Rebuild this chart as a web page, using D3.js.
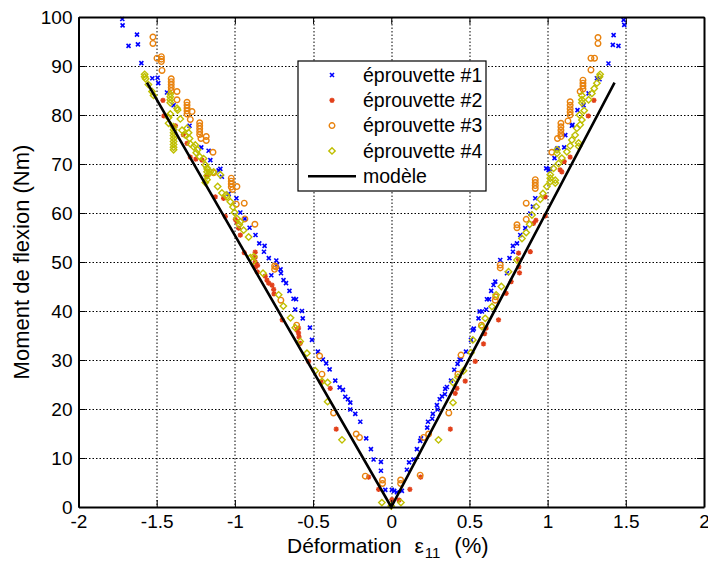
<!DOCTYPE html>
<html>
<head>
<meta charset="utf-8">
<script src="https://cdn.jsdelivr.net/npm/d3@7"></script>
<style>
    body { margin: 0; background: #fff; }
    text { font-family: "Liberation Sans", Arial, sans-serif; fill: #000; }
</style>
</head>
<body>
<div id="chart"></div>
<script>
// tick values / labels
const xTicks = [-2, -1.5, -1, -0.5, 0, 0.5, 1, 1.5, 2];
const xTickLabels = ["-2", "-1.5", "-1", "-0.5", "0", "0.5", "1", "1.5", "2"];
const yTicks = [0, 10, 20, 30, 40, 50, 60, 70, 80, 90, 100];

const seriesNames = ["éprouvette #1", "éprouvette #2", "éprouvette #3", "éprouvette #4"];
const modelName = "modèle";

// [strain %, moment Nm]
const eprouvette1 = [
    [-1.72,99.6],[-1.718,98.3],[-1.626,96.4],[-1.62,94.4],[-1.68,94.1],[-1.598,90.6],[-1.528,87.5],[-1.494,87.6],
    [-1.49,86.5],[-1.434,84.6],[-1.392,82.0],[-1.29,77.8],[-1.215,73.4],[-1.168,72.7],[-1.157,70.8],[-1.104,68.7],
    [-1.093,69.0],[-1.083,67.4],[-1.04,63.9],[-0.99,63.0],[-0.965,60.1],[-0.936,58.8],[-0.906,57.0],[-0.868,55.5],
    [-0.844,53.8],[-0.81,53.3],[-0.814,52.1],[-0.783,50.8],[-0.735,50.3],[-0.731,49.4],[-0.708,48.5],[-0.705,47.7],
    [-0.767,47.3],[-0.689,46.3],[-0.673,45.7],[-0.651,44.1],[-0.625,42.5],[-0.609,42.4],[-0.614,40.3],[-0.571,40.0],
    [-0.566,38.5],[-0.52,36.6],[-0.507,34.1],[-0.469,31.7],[-0.437,30.1],[-0.416,29.3],[-0.394,28.1],[-0.358,25.8],
    [-0.33,24.4],[-0.309,23.9],[-0.294,22.5],[-0.277,22.0],[-0.262,21.3],[-0.262,19.9],[-0.23,19.0],[-0.198,17.4],
    [-0.16,14.0],[-0.13,11.8],[-0.113,9.7],[-0.066,9.2],[-0.066,7.4],[-0.038,3.5],[0.004,3.5],[0.019,3.3],
    [0.036,3.0],[0.068,3.3],
    [0.1,7.6],[0.114,9.1],[0.143,9.7],[0.164,11.8],[0.19,14.0],[0.185,13.5],[0.23,16.2],[0.235,17.4],
    [0.262,18.0],[0.266,19.0],[0.292,20.8],[0.296,19.9],[0.31,22.0],[0.324,22.6],[0.343,23.0],[0.345,24.1],
    [0.356,24.5],[0.382,25.8],[0.403,28.0],[0.424,29.2],[0.437,30.1],[0.446,30.1],[0.478,31.7],[0.51,34.1],
    [0.522,36.1],[0.528,36.4],[0.558,38.5],[0.565,39.9],[0.58,39.9],[0.607,40.3],[0.612,42.4],[0.626,42.4],
    [0.639,44.1],[0.654,45.3],[0.665,46.0],[0.697,50.4],[0.74,47.7],[0.756,50.8],[0.778,52.1],[0.778,53.3],
    [0.804,53.8],[0.825,55.5],[0.857,56.9],[0.889,59.9],[0.906,61.3],[0.921,63.0],[0.991,69.1],[1.006,68.8],
    [1.015,69.0],[1.044,71.2],[1.06,73.0],[1.063,73.2],[1.106,73.4],[1.113,75.9],[1.155,77.8],[1.159,78.0],
    [1.191,81.0],[1.23,82.0],[1.262,84.4],[1.315,87.5],[1.332,87.3],[1.389,90.5],[1.417,94.3],[1.422,96.3],
    [1.453,94.1],[1.486,99.4],[1.49,98.4]
];

const eprouvette2 = [
    [-1.46,83.0],[-1.454,79.8],[-1.38,77.8],[-1.33,76.0],[-1.306,74.2],[-1.285,71.4],[-1.25,71.0],[-1.21,70.8],
    [-1.18,67.5],[-1.125,63.3],[-1.072,63.0],[-1.061,59.3],[-0.997,58.7],[-0.987,58.2],[-0.976,56.9],[-0.965,55.5],
    [-0.94,51.9],[-0.87,52.0],[-0.87,51.0],[-0.87,50.0],[-0.868,49.0],[-0.857,48.0],[-0.855,49.3],[-0.806,47.1],
    [-0.795,46.3],[-0.784,45.7],[-0.763,45.3],[-0.752,44.4],[-0.75,43.5],[-0.697,38.2],[-0.603,36.1],[-0.593,36.5],
    [-0.593,35.5],[-0.59,34.7],[-0.582,33.4],[-0.529,29.7],[-0.45,25.6],[-0.39,24.2],[-0.352,15.9],[-0.145,6.1],
    [-0.081,3.6],[0.004,1.5],[0.05,1.4],[0.119,3.6],[0.188,6.1],[0.378,15.9],[0.409,23.2],[0.42,24.2],
    [0.473,25.7],[0.537,29.7],[0.59,33.3],[0.597,35.4],[0.607,36.5],[0.686,38.2],[0.735,43.6],[0.767,46.0],
    [0.814,51.8],[0.814,50.5],[0.816,49.0],[0.82,47.8],[0.889,52.1],[0.91,57.9],[0.925,58.5],[0.985,63.3],
    [0.985,59.4],[1.08,68.8],[1.091,68.4],[1.106,70.5],[1.144,71.4],[1.26,79.8],[1.296,83.0]
];

const eprouvette3 = [
    [-1.524,95.9],[-1.524,94.6],[-1.498,91.6],[-1.47,91.9],[-1.47,91.4],[-1.47,90.9],[-1.466,89.1],[-1.407,87.4],
    [-1.407,86.8],[-1.407,86.2],[-1.407,85.6],[-1.407,85.0],[-1.37,84.8],[-1.37,83.1],[-1.306,82.6],[-1.306,82.0],
    [-1.306,81.4],[-1.306,80.8],[-1.306,80.2],[-1.274,80.7],[-1.285,79.1],[-1.225,78.4],[-1.225,77.8],[-1.225,77.2],
    [-1.225,76.6],[-1.225,76.0],[-1.217,75.2],[-1.183,75.6],[-1.183,74.8],[-1.14,72.4],[-1.136,68.2],[-1.023,67.1],
    [-1.023,66.5],[-1.023,65.9],[-1.023,65.3],[-1.015,64.8],[-0.987,65.4],[-0.991,61.8],[-0.94,62.0],[-0.936,58.8],
    [-0.872,57.7],[-0.746,49.2],[-0.746,48.5],[-0.738,49.0],[-0.706,42.2],[-0.605,37.1],[-0.458,30.8],[-0.443,27.1],
    [-0.369,19.2],[-0.224,14.9],[-0.203,14.2],[-0.166,6.3],[-0.056,5.5],[-0.056,4.8],
    [0.06,5.5],[0.06,4.8],[0.185,6.5],[0.207,14.2],[0.239,14.9],[0.368,19.2],[0.426,27.1],[0.446,31.0],
    [0.577,37.1],[0.665,42.2],[0.668,42.9],[0.697,49.4],[0.697,48.8],[0.804,57.6],[0.804,57.0],[0.863,58.7],
    [0.863,62.0],[0.921,66.8],[0.921,66.2],[0.921,65.6],[0.921,65.0],[1.027,72.4],[1.063,75.2],[1.085,78.3],
    [1.085,77.6],[1.085,76.9],[1.085,76.2],[1.085,75.6],[1.13,78.8],[1.144,82.7],[1.144,82.0],[1.144,81.3],
    [1.144,80.6],[1.144,80.0],[1.208,84.8],[1.226,87.1],[1.226,86.5],[1.226,85.9],[1.226,85.3],[1.277,89.2],
    [1.277,91.6],[1.3,91.6],[1.322,94.6],[1.322,95.8]
];

const eprouvette4 = [
    [-1.577,88.3],[-1.577,87.8],[-1.571,87.4],[-1.553,86.2],[-1.53,84.8],[-1.52,84.0],[-1.413,84.3],[-1.413,83.7],
    [-1.413,83.1],[-1.413,82.5],[-1.37,81.4],[-1.366,81.0],[-1.424,79.5],[-1.413,80.2],[-1.349,79.2],[-1.392,77.6],
    [-1.392,77.0],[-1.392,76.4],[-1.392,75.8],[-1.392,75.2],[-1.392,74.6],[-1.392,74.0],[-1.392,73.4],[-1.392,72.9],
    [-1.424,78.3],[-1.338,76.9],[-1.317,75.9],[-1.306,77.3],[-1.296,76.4],[-1.29,75.2],[-1.285,74.1],[-1.264,73.5],
    [-1.253,73.9],[-1.247,72.3],[-1.238,72.9],[-1.225,71.5],[-1.2,71.1],[-1.189,69.8],[-1.178,69.2],[-1.178,68.4],
    [-1.178,67.6],[-1.178,66.8],[-1.189,66.2],[-1.175,68.9],[-1.157,68.4],[-1.136,68.4],[-1.11,65.4],[-1.093,67.8],
    [-1.083,64.1],[-1.055,63.7],[-1.051,63.3],[-1.029,62.3],[-1.012,61.2],[-1.002,60.1],[-0.987,58.9],[-0.972,57.6],
    [-0.965,58.2],[-0.944,56.5],[-0.912,55.1],[-0.901,50.9],[-0.884,50.1],[-0.88,51.1],[-0.82,47.7],[-0.72,43.3],
    [-0.69,41.0],[-0.644,38.6],[-0.614,36.6],[-0.582,33.8],[-0.539,31.4],[-0.486,27.8],[-0.443,25.6],[-0.407,25.4],
    [-0.407,21.5],[-0.315,13.7],[-0.06,0.9],[0.0,0.2],
    [0.062,0.9],[0.302,13.7],[0.395,21.3],[0.395,25.4],[0.426,26.5],[0.462,27.8],[0.51,31.5],[0.522,34.1],
    [0.58,36.8],[0.601,38.5],[0.644,40.9],[0.671,43.3],[0.704,45.0],[0.75,48.0],[0.804,50.4],[0.836,54.8],
    [0.863,56.0],[0.885,57.7],[0.9,59.6],[0.927,61.3],[0.953,62.8],[0.97,64.0],[0.995,65.4],[1.017,67.8],
    [1.017,67.1],[1.017,66.4],[1.049,66.7],[1.049,66.1],[1.038,69.1],[1.07,70.1],[1.06,72.9],[1.06,72.2],
    [1.091,71.2],[1.123,72.5],[1.144,73.7],[1.155,74.9],[1.176,75.9],[1.198,74.3],[1.198,73.6],[1.187,77.3],
    [1.208,78.0],[1.219,79.0],[1.204,80.0],[1.234,80.9],[1.219,83.1],[1.219,82.5],[1.219,84.0],[1.262,83.1],
    [1.283,84.4],[1.298,85.4],[1.315,86.5],[1.332,87.8],[1.336,88.3]
];

// bilinear model
const modele = [[-1.562, 86.6], [0, 0], [1.428, 86.6]];

const width = 708, height = 563;
const margin = { top: 17, right: 4, bottom: 56, left: 78.5 };
const plotW = width - margin.left - margin.right;
const plotH = height - margin.top - margin.bottom;

const svg = d3.select("#chart").append("svg")
    .attr("width", width)
    .attr("height", height);

const chart = svg.append("g")
    .attr("transform", `translate(${margin.left}, ${margin.top})`);

const xScale = d3.scaleLinear().domain([-2, 2]).range([0, plotW]);
const yScale = d3.scaleLinear().domain([0, 100]).range([plotH, 0]);

// dotted grid
const grid = chart.append("g")
    .attr("stroke", "#000")
    .attr("stroke-width", 1)
    .attr("stroke-dasharray", "1.5,2");

grid.selectAll(".gx").data(xTicks.slice(1, -1)).join("line")
    .attr("x1", d => Math.round(xScale(d)) + 0.5)
    .attr("x2", d => Math.round(xScale(d)) + 0.5)
    .attr("y1", 0).attr("y2", plotH);

grid.selectAll(".gy").data(yTicks.slice(1, -1)).join("line")
    .attr("y1", d => Math.round(yScale(d)) + 0.5)
    .attr("y2", d => Math.round(yScale(d)) + 0.5)
    .attr("x1", 0).attr("x2", plotW);

// markers
const markerPaths = [
    "M-2,-2L2,2M-2,2L2,-2",
    "M-2.6,0H2.6M0,-2.6V2.6M-1.9,-1.9L1.9,1.9M-1.9,1.9L1.9,-1.9",
    null,
    "M0,-3.2L3.2,0L0,3.2L-3.2,0Z"
];
const colors = ["#0000ff", "#e2401a", "#e8820e", "#bfbf00"];
const allSeries = [eprouvette1, eprouvette2, eprouvette3, eprouvette4];

function drawMarker(g, i) {
    if (i === 2) {
        g.append("circle").attr("r", 2.8)
            .attr("fill", "none").attr("stroke", colors[i]).attr("stroke-width", 1.4);
    } else {
        g.append("path").attr("d", markerPaths[i])
            .attr("fill", "none").attr("stroke", colors[i])
            .attr("stroke-width", i === 0 ? 1.6 : 1.4);
    }
}

allSeries.forEach((data, i) => {
    const layer = chart.append("g");
    layer.selectAll("g").data(data).join("g")
        .attr("transform", d => `translate(${xScale(d[0])}, ${yScale(d[1])})`)
        .each(function () { drawMarker(d3.select(this), i); });
});

const lineGen = d3.line()
    .x(d => xScale(d[0]))
    .y(d => yScale(d[1]));

chart.append("path")
    .datum(modele)
    .attr("fill", "none")
    .attr("stroke", "#000")
    .attr("stroke-width", 2.6)
    .attr("d", lineGen);

// axes, ticks pointing inwards
const fmtX = d => xTickLabels[xTicks.indexOf(d)];

chart.append("g")
    .attr("transform", `translate(0, ${plotH})`)
    .call(d3.axisBottom(xScale).tickValues(xTicks).tickFormat(fmtX)
        .tickSizeInner(-7).tickSizeOuter(0).tickPadding(8));

chart.append("g")
    .call(d3.axisLeft(yScale).tickValues(yTicks).tickFormat(d3.format("d"))
        .tickSizeInner(-7).tickSizeOuter(0).tickPadding(6));

chart.append("g")
    .call(d3.axisTop(xScale).tickValues(xTicks).tickFormat("")
        .tickSizeInner(-7).tickSizeOuter(0));

chart.append("g")
    .attr("transform", `translate(${plotW}, 0)`)
    .call(d3.axisRight(yScale).tickValues(yTicks).tickFormat("")
        .tickSizeInner(-7).tickSizeOuter(0));

chart.selectAll(".domain").attr("stroke", "#000").attr("stroke-width", 2);
chart.selectAll(".tick line").attr("stroke", "#000").attr("stroke-width", 1);
chart.selectAll(".tick text")
    .style("font-family", "'Liberation Sans', Arial, sans-serif")
    .style("font-size", "19px")
    .attr("fill", "#000");

// axis titles
svg.append("text")
    .attr("transform", `translate(21, ${margin.top + plotH / 2}) rotate(-90)`)
    .attr("text-anchor", "middle")
    .attr("dominant-baseline", "central")
    .style("font-size", "22px")
    .text("Moment de flexion (Nm)");

const xTitle = svg.append("text")
    .attr("x", 287)
    .attr("y", 553)
    .style("font-size", "21px");
xTitle.append("tspan").text("Déformation");
xTitle.append("tspan").attr("dx", 13).text("ε");
xTitle.append("tspan").attr("dy", 5).attr("dx", 1).style("font-size", "15px").text("11");
xTitle.append("tspan").attr("dy", -5).attr("dx", 14).style("font-size", "22px").text("(%)");

// legend
const legend = svg.append("g").attr("transform", "translate(298, 61)");
legend.append("rect")
    .attr("width", 188).attr("height", 130)
    .attr("fill", "#fff").attr("stroke", "#000").attr("stroke-width", 1.2);

seriesNames.forEach((name, i) => {
    const row = legend.append("g").attr("transform", `translate(0, ${14 + i * 25.3})`);
    drawMarker(row.append("g").attr("transform", "translate(34, 0)"), i);
    row.append("text").attr("x", 65).attr("dy", "0.35em")
        .style("font-size", "19.5px").text(name);
});

const modelRow = legend.append("g").attr("transform", `translate(0, ${14 + 4 * 25.3})`);
modelRow.append("line").attr("x1", 10).attr("x2", 58)
    .attr("stroke", "#000").attr("stroke-width", 2.6);
modelRow.append("text").attr("x", 65).attr("dy", "0.35em")
    .style("font-size", "19.5px").text(modelName);
</script>
</body>
</html>
